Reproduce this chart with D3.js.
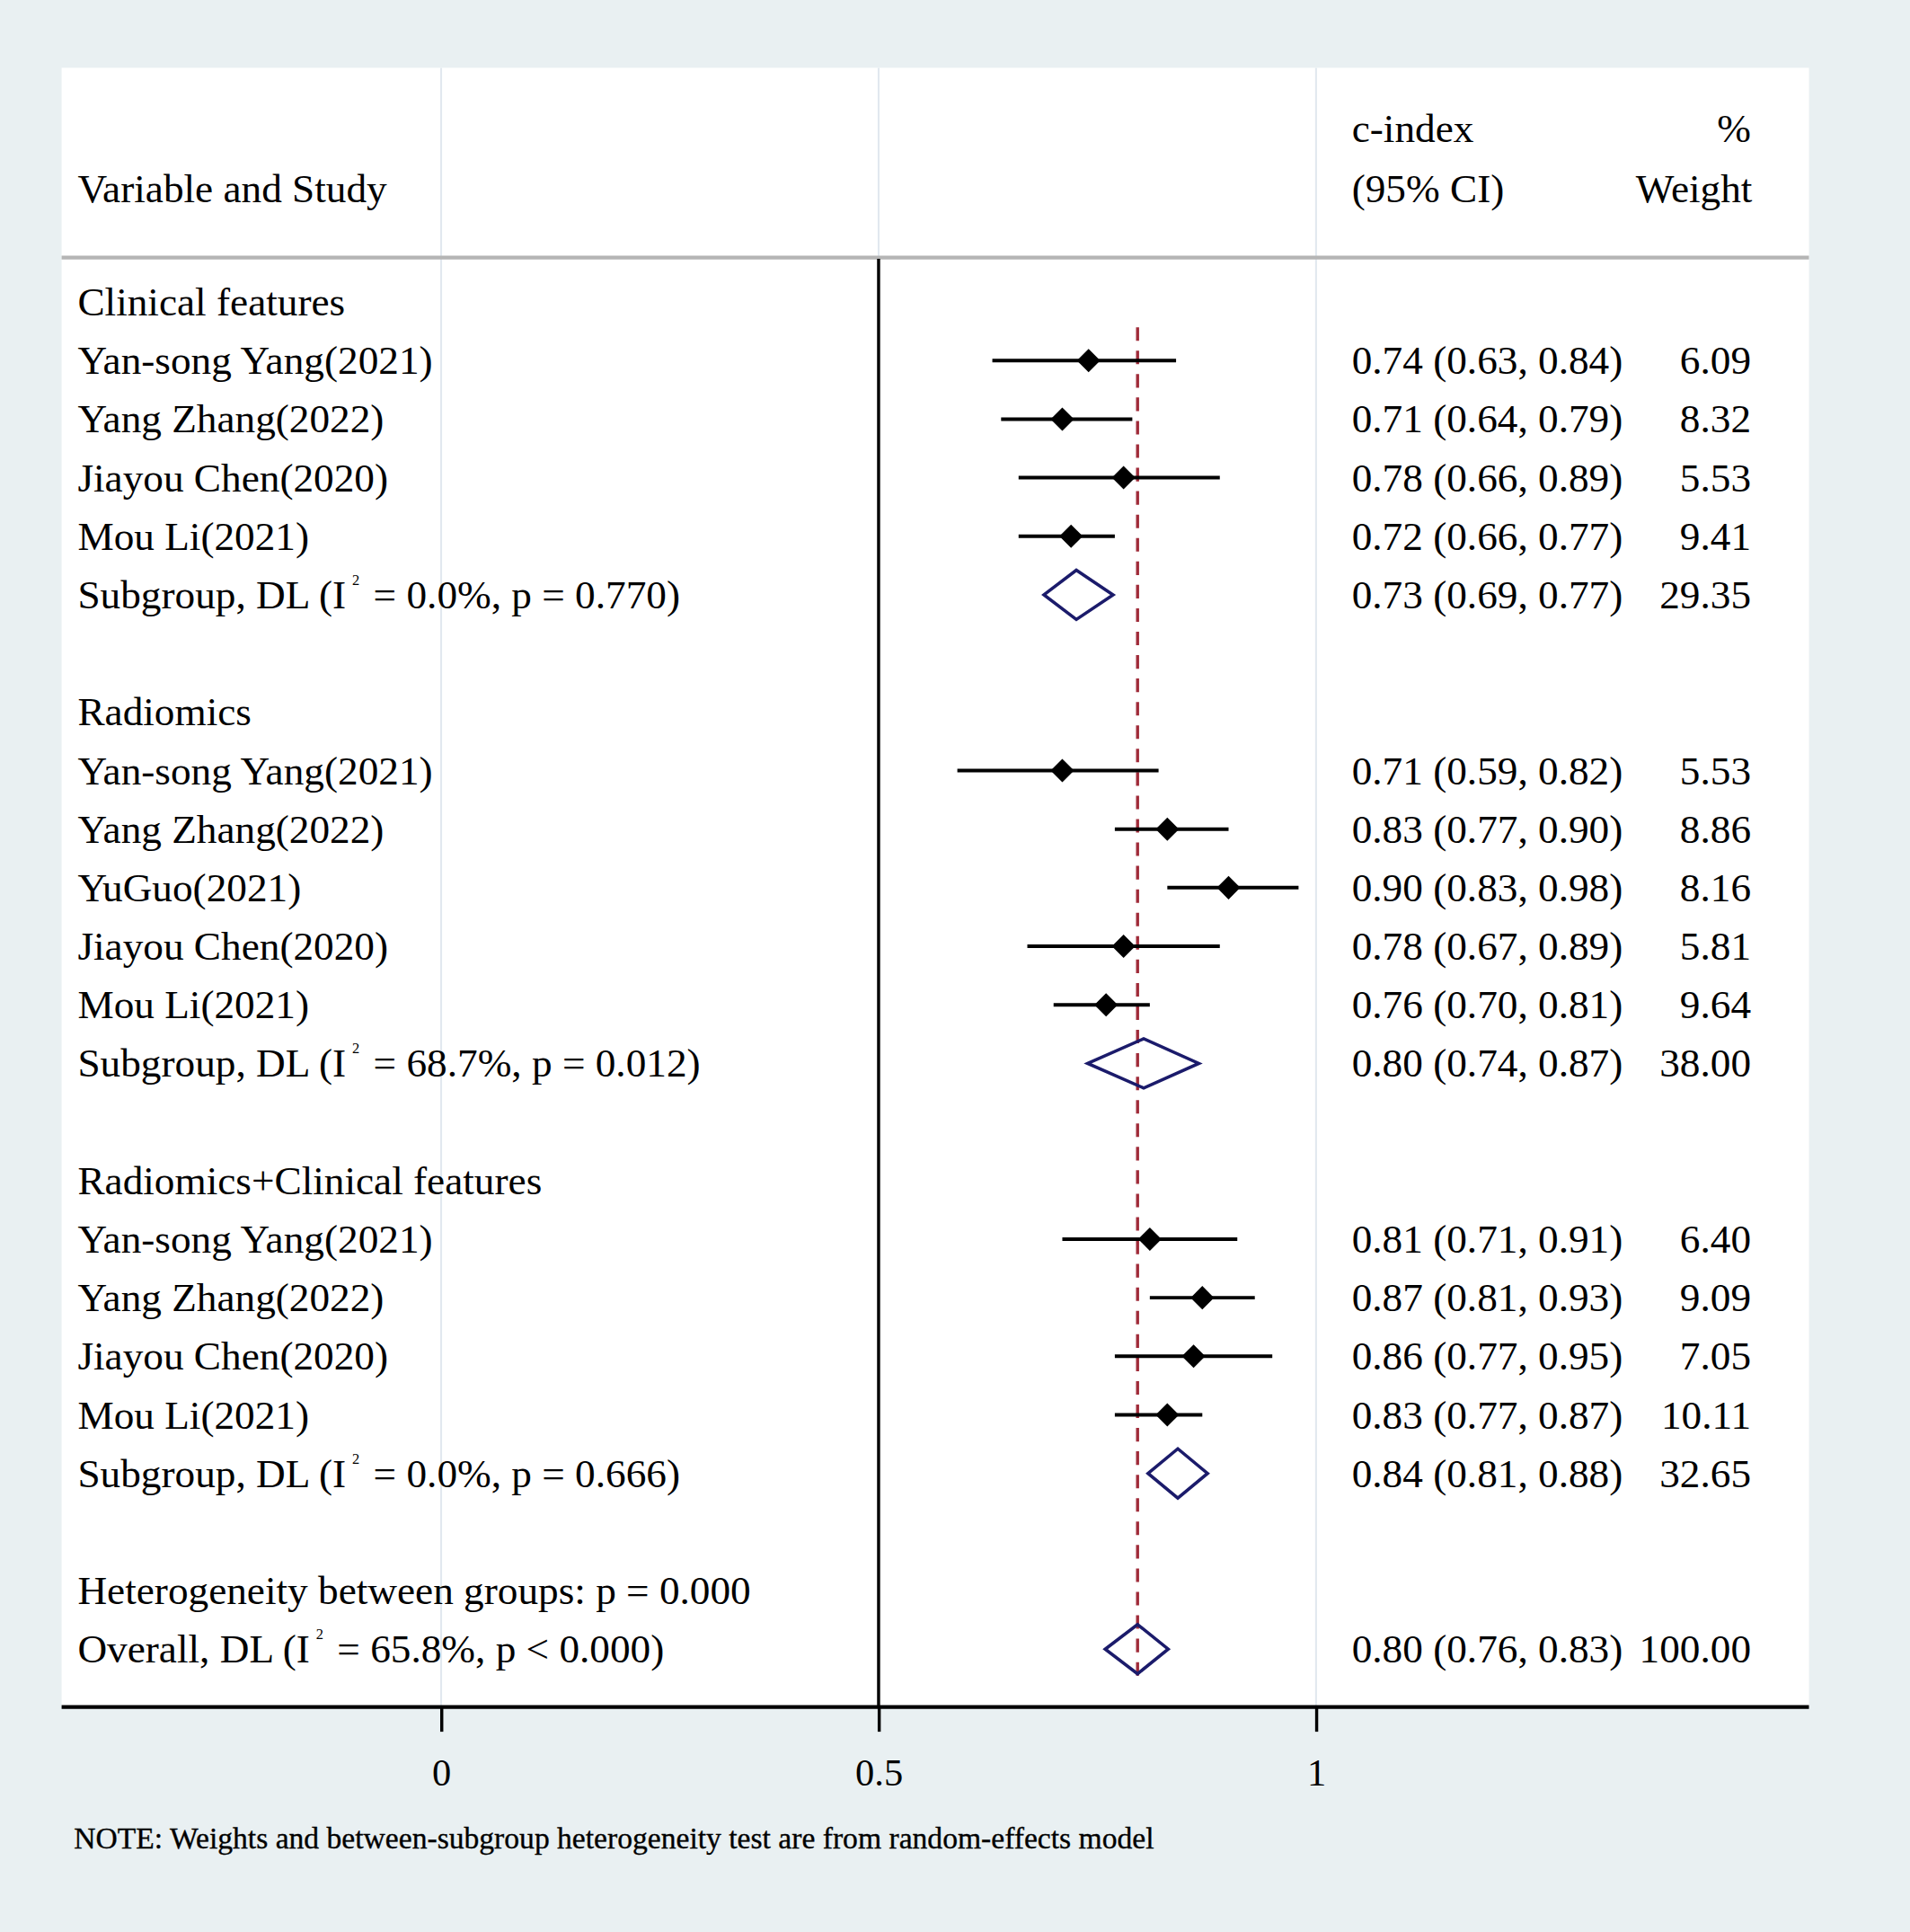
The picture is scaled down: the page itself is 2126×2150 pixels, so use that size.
<!DOCTYPE html>
<html>
<head>
<meta charset="utf-8">
<script src="https://d3js.org/d3.v7.min.js"></script>
<style>
  body { margin: 0; background: #e9f0f2; }
  text { font-family: "Liberation Serif", "Times New Roman", serif; fill: #000; }
</style>
</head>
<body>
<div id="chart"></div>
<script>
// study rows
var studyNames = ["Yan-song Yang(2021)", "Yang Zhang(2022)", "Jiayou Chen(2020)", "Mou Li(2021)",
                  "Yan-song Yang(2021)", "Yang Zhang(2022)", "YuGuo(2021)", "Jiayou Chen(2020)", "Mou Li(2021)",
                  "Yan-song Yang(2021)", "Yang Zhang(2022)", "Jiayou Chen(2020)", "Mou Li(2021)"];
var studyGroup = [0, 0, 0, 0, 1, 1, 1, 1, 1, 2, 2, 2, 2];
var studyEst = [0.74, 0.71, 0.78, 0.72, 0.71, 0.83, 0.90, 0.78, 0.76, 0.81, 0.87, 0.86, 0.83];
var studyLo  = [0.63, 0.64, 0.66, 0.66, 0.59, 0.77, 0.83, 0.67, 0.70, 0.71, 0.81, 0.77, 0.77];
var studyHi  = [0.84, 0.79, 0.89, 0.77, 0.82, 0.90, 0.98, 0.89, 0.81, 0.91, 0.93, 0.95, 0.87];
var studyWeight = [6.09, 8.32, 5.53, 9.41, 5.53, 8.86, 8.16, 5.81, 9.64, 6.40, 9.09, 7.05, 10.11];

// subgroup pooled rows
var groupNames = ["Clinical features", "Radiomics", "Radiomics+Clinical features"];
var groupEst = [0.726, 0.803, 0.842];
var groupLo  = [0.689, 0.739, 0.808];
var groupHi  = [0.768, 0.866, 0.876];
var groupI2  = ["0.0", "68.7", "0.0"];
var groupP   = ["0.770", "0.012", "0.666"];
var groupWeight = [29.35, 38.00, 32.65];

// overall
var overallEst = 0.796, overallLo = 0.759, overallHi = 0.831;
var overallI2 = "65.8", overallP = "0.000", hetP = "0.000";
var xTicks = [0, 0.5, 1];

var W = 1550, H = 1567.5;
var svg = d3.select("#chart").append("svg")
    .attr("width", 2126).attr("height", 2150)
    .attr("viewBox", "0 0 " + W + " " + H)
    .style("display", "block");

svg.append("rect").attr("width", W).attr("height", H).attr("fill", "#e9f0f2");

var padL = 50, padR = 1468, padT = 55, axisY = 1385;
var fs = 33;
var x = d3.scaleLinear().domain([0, 1]).range([358, 1068]);
var y = d3.scaleLinear().domain([0, 23]).range([245, 1338]);

// build the row list
var rows = [];
var r = 0;
groupNames.forEach(function(g, gi) {
  rows.push({type: "group", row: r++, label: g});
  studyNames.forEach(function(s, i) {
    if (studyGroup[i] === gi)
      rows.push({type: "study", row: r++, label: s, est: studyEst[i], lo: studyLo[i], hi: studyHi[i], w: studyWeight[i]});
  });
  rows.push({type: "sub", row: r++, label: "Subgroup, DL (I", i2: groupI2[gi], p: groupP[gi], pOp: "=",
             est: groupEst[gi], lo: groupLo[gi], hi: groupHi[gi], w: groupWeight[gi]});
  r++; // blank row
});
rows.push({type: "group", row: r++, label: "Heterogeneity between groups: p = " + hetP});
rows.push({type: "sub", row: r++, label: "Overall, DL (I", i2: overallI2, p: overallP, pOp: "<",
           est: overallEst, lo: overallLo, hi: overallHi, w: 100});

// white plot panel
svg.append("rect").attr("x", padL).attr("y", padT)
    .attr("width", padR - padL).attr("height", axisY - padT).attr("fill", "#fff");

// faint gridlines
svg.selectAll(".grid").data(xTicks).enter().append("line")
    .attr("x1", d => x(d)).attr("x2", d => x(d))
    .attr("y1", padT).attr("y2", axisY)
    .attr("stroke", "#e1e8ef").attr("stroke-width", 1.5);

// header separator
svg.append("line").attr("x1", padL).attr("x2", padR).attr("y1", 209).attr("y2", 209)
    .attr("stroke", "#b5b5b5").attr("stroke-width", 3);

// null line
svg.append("line").attr("x1", x(0.5)).attr("x2", x(0.5)).attr("y1", 210).attr("y2", axisY)
    .attr("stroke", "#000").attr("stroke-width", 2.5);

// overall dashed line
svg.append("line").attr("x1", x(overallEst)).attr("x2", x(overallEst))
    .attr("y1", y(1) - 27).attr("y2", y(23) + 24)
    .attr("stroke", "#a02c3a").attr("stroke-width", 2.5).attr("stroke-dasharray", "11,8");

// header texts
svg.append("text").attr("x", 63).attr("y", 164).attr("font-size", fs).text("Variable and Study");
svg.append("text").attr("x", 1097).attr("y", 115).attr("font-size", fs).text("c-index");
svg.append("text").attr("x", 1097).attr("y", 164).attr("font-size", fs).text("(95% CI)");
svg.append("text").attr("x", 1421).attr("y", 115).attr("font-size", fs).attr("text-anchor", "end").text("%");
svg.append("text").attr("x", 1422).attr("y", 164).attr("font-size", fs).attr("text-anchor", "end").text("Weight");

// row labels
rows.forEach(function(d) {
  var t = svg.append("text").attr("x", 63).attr("y", y(d.row) + 11).attr("font-size", fs);
  if (d.type === "sub") {
    t.append("tspan").text(d.label);
    t.append("tspan").attr("dx", 5).attr("dy", -19).attr("font-size", 12).text("2");
    t.append("tspan").attr("dx", 3).attr("dy", 19).text(" = " + d.i2 + "%, p " + d.pOp + " " + d.p + ")");
  } else {
    t.text(d.label);
  }
  if (d.type !== "group") {
    svg.append("text").attr("x", 1097).attr("y", y(d.row) + 11).attr("font-size", fs)
        .text(d.est.toFixed(2) + " (" + d.lo.toFixed(2) + ", " + d.hi.toFixed(2) + ")");
    svg.append("text").attr("x", 1421).attr("y", y(d.row) + 11).attr("font-size", fs)
        .attr("text-anchor", "end").text(d.w.toFixed(2));
  }
});

// study CIs and markers
var st = rows.filter(d => d.type === "study");
svg.selectAll(".ci").data(st).enter().append("line")
    .attr("x1", d => x(d.lo)).attr("x2", d => x(d.hi))
    .attr("y1", d => y(d.row)).attr("y2", d => y(d.row))
    .attr("stroke", "#000").attr("stroke-width", 2.9);
svg.selectAll(".pt").data(st).enter().append("path")
    .attr("d", function(d) {
      var cx = x(d.est), cy = y(d.row), s = 9.5;
      return "M" + (cx - s) + "," + cy + "L" + cx + "," + (cy - s) + "L" + (cx + s) + "," + cy + "L" + cx + "," + (cy + s) + "Z";
    })
    .attr("fill", "#000");

// pooled diamonds
svg.selectAll(".dia").data(rows.filter(d => d.type === "sub")).enter().append("path")
    .attr("d", function(d) {
      var cy = y(d.row), h = 20;
      return "M" + x(d.lo) + "," + cy + "L" + x(d.est) + "," + (cy - h) + "L" + x(d.hi) + "," + cy + "L" + x(d.est) + "," + (cy + h) + "Z";
    })
    .attr("fill", "none").attr("stroke", "#1b1b6b").attr("stroke-width", 2.6);

// x axis
var ax = svg.append("g").attr("transform", "translate(0," + axisY + ")")
    .call(d3.axisBottom(x).tickValues(xTicks).tickFormat(d3.format("")).tickSize(20).tickPadding(22));
ax.select(".domain").remove();
ax.selectAll(".tick line").attr("stroke", "#000").attr("stroke-width", 2.5);
ax.selectAll(".tick text").attr("font-size", 31).attr("font-family", "Liberation Serif").attr("fill", "#000");
svg.append("line").attr("x1", padL).attr("x2", padR).attr("y1", axisY).attr("y2", axisY)
    .attr("stroke", "#000").attr("stroke-width", 3);

// note
svg.append("text").attr("x", 60).attr("y", 1500).attr("font-size", 24.5)
    .style("stroke", "#000").style("stroke-width", 0.25)
    .text("NOTE: Weights and between-subgroup heterogeneity test are from random-effects model");
</script>
</body>
</html>
